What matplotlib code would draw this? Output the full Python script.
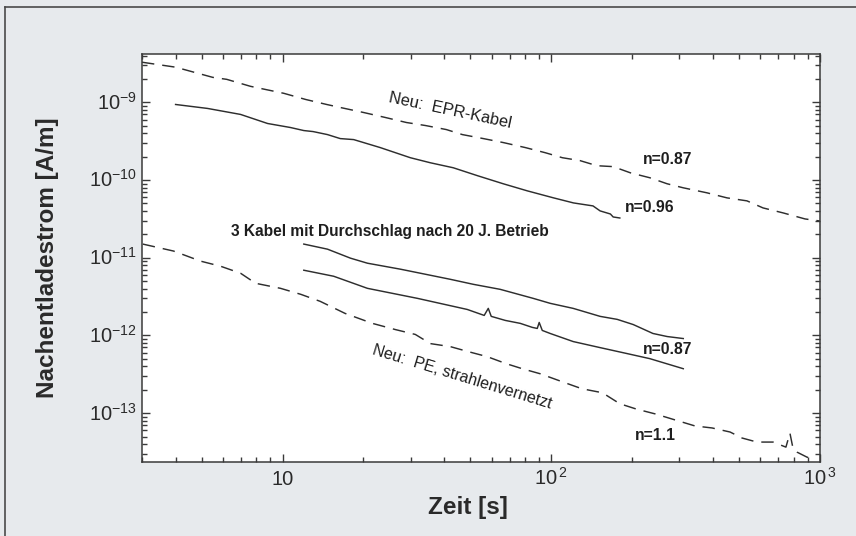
import matplotlib
matplotlib.use('Agg')
import numpy as np
import matplotlib.pyplot as plt
from matplotlib import transforms
from matplotlib.lines import Line2D
from matplotlib.ticker import LogLocator, NullFormatter

plt.rcParams['font.family'] = ['Liberation Sans', 'DejaVu Sans']
plt.rcParams['mathtext.default'] = 'regular'

# Neu: EPR-Kabel (dashed, n=0.87)
epr_t = [3.0, 4.0, 5.5, 6.2, 7.6, 10.1, 12.2, 14.6, 16.4, 20.0, 24.1, 28.9, 34.0, 40.7,
         46.7, 55.9, 66.3, 80.1, 95.0, 110, 128, 148, 170, 197, 233, 270, 310, 380,
         451, 535, 614, 729, 880, 1000]
epr_i = [3.29e-9, 2.84e-9, 2.10e-9, 1.98e-9, 1.61e-9, 1.31e-9, 1.09e-9, 9.4e-10, 8.6e-10,
         7.42e-10, 6.4e-10, 5.51e-10, 5.04e-10, 4.47e-10, 3.85e-10, 3.42e-10, 3.04e-10,
         2.62e-10, 2.25e-10, 1.94e-10, 1.78e-10, 1.53e-10, 1.49e-10, 1.24e-10, 1.07e-10,
         8.96e-11, 7.95e-11, 6.85e-11, 5.9e-11, 5.4e-11, 4.38e-11, 3.78e-11, 3.16e-11, 2.97e-11]

# EPR solid (n=0.96)
eprs_t = [4.0, 5.26, 6.98, 8.8, 10.7, 12.0, 13.0, 14.7, 16.4, 18.4, 23.1, 29.9, 35.5, 43.2,
          53.1, 66.3, 81.4, 102, 121, 128, 143, 152, 166, 170, 180]
eprs_i = [9.4e-10, 8.36e-10, 7.0e-10, 5.35e-10, 4.75e-10, 4.34e-10, 4.21e-10, 3.85e-10,
          3.42e-10, 3.32e-10, 2.62e-10, 1.94e-10, 1.67e-10, 1.44e-10, 1.14e-10, 8.96e-11,
          7.27e-11, 5.9e-11, 5.08e-11, 4.93e-11, 4.65e-11, 4.01e-11, 3.66e-11, 3.35e-11, 3.25e-11]

# 3 Kabel mit Durchschlag (two solid curves, n=0.87)
k1_t = [12.0, 14.7, 17.9, 20.7, 27.5, 32.6, 42.1, 51.3, 64.6, 85.7, 99.1, 120.7, 152,
        176, 202, 239, 270, 310]
k1_i = [1.50e-11, 1.29e-11, 9.88e-12, 8.51e-12, 7.12e-12, 6.32e-12, 5.28e-12, 4.55e-12,
        3.92e-12, 3.0e-12, 2.59e-12, 2.23e-12, 1.76e-12, 1.61e-12, 1.38e-12, 1.06e-12,
        9.68e-13, 9.12e-13]

k2_t = [12.0, 15.5, 20.7, 31.8, 48.7, 56.3, 58.3, 59.8, 67.5, 76.7, 85.0, 88.7, 90.2,
        92.6, 99.1, 120.7, 152, 192, 233, 310]
k2_i = [6.91e-12, 5.78e-12, 4.04e-12, 3.0e-12, 2.16e-12, 1.81e-12, 2.23e-12, 1.76e-12,
        1.56e-12, 1.43e-12, 1.27e-12, 1.23e-12, 1.47e-12, 1.16e-12, 1.06e-12, 8.34e-13,
        6.97e-13, 5.83e-13, 5.02e-13, 3.73e-13]

# Neu: PE, strahlenvernetzt (dashed, n=1.1)
pe_t = [3.02, 3.93, 4.96, 5.88, 6.98, 7.94, 9.83, 11.7, 13.8, 17.1, 21.6, 26.3, 31.2, 35.5,
        42.1, 49.1, 57.8, 68.0, 78.0, 91.0, 110, 130, 155, 180, 207, 244, 289, 343, 397,
        463, 513, 583, 669, 747, 773, 794, 821, 895, 957]
pe_i = [1.50e-11, 1.22e-11, 9.04e-12, 7.78e-12, 6.32e-12, 4.69e-12, 4.04e-12, 3.38e-12,
        2.75e-12, 1.92e-12, 1.43e-12, 1.19e-12, 1.03e-12, 7.85e-13, 7.18e-13, 6.19e-13,
        5.33e-13, 4.33e-13, 3.73e-13, 3.21e-13, 2.53e-13, 2.06e-13, 1.83e-13, 1.32e-13,
        1.13e-13, 9.76e-14, 8.17e-14, 6.83e-14, 6.44e-14, 5.71e-14, 4.78e-14, 4.24e-14,
        4.24e-14, 3.65e-14, 5.54e-14, 3.50e-14, 3.15e-14, 2.71e-14, 2.58e-14]

xtick_vals = [10, 100, 1000]
xtick_text = ['10', r'$10^{\,2}$', r'$10^{\,3}$']
ytick_vals = [1e-9, 1e-10, 1e-11, 1e-12, 1e-13]
ytick_text = [r'$10^{-9}$', r'$10^{-10}$', r'$10^{-11}$', r'$10^{-12}$', r'$10^{-13}$']

line_col = '#2e2e2e'
bg = '#e7eaed'

fig = plt.figure(figsize=(8.56, 5.36), dpi=100, facecolor=bg)
ax = fig.add_axes([0.1659, 0.1381, 0.7920, 0.7612])
ax.set_facecolor('white')

dash = (0, (8.5, 5.5))
ax.plot(epr_t, epr_i, color=line_col, lw=1.05, linestyle=dash)
ax.plot(eprs_t, eprs_i, color=line_col, lw=1.05)
ax.plot(k1_t, k1_i, color=line_col, lw=1.05)
ax.plot(k2_t, k2_i, color=line_col, lw=1.05)
ax.plot(pe_t, pe_i, color=line_col, lw=1.05, linestyle=dash)

ax.set_xscale('log')
ax.set_yscale('log')
ax.set_xlim(3.0, 1000)
ax.set_ylim(2.35e-14, 4.2e-9)

for a in (ax.xaxis, ax.yaxis):
    a.set_major_locator(LogLocator(base=10, numticks=20))
    a.set_minor_locator(LogLocator(base=10, subs=np.arange(2, 10), numticks=100))
    a.set_major_formatter(NullFormatter())
    a.set_minor_formatter(NullFormatter())

ax.tick_params(which='both', direction='in', top=True, right=True, color='#3a3a3a', width=1.0)
ax.tick_params(which='major', length=6)
ax.tick_params(which='minor', length=3.8)
for s in ax.spines.values():
    s.set_color('#3a3a3a')
    s.set_linewidth(1.1)

# tick labels placed on the baseline so that "10" and "10^2" line up
tick_fs = 14.5
xl_tf = transforms.offset_copy(ax.get_xaxis_transform(), fig=fig, y=-16.3, units='points')
for v, s in zip(xtick_vals, xtick_text):
    ax.text(v, 0, s, transform=xl_tf, ha='center', va='baseline', fontsize=tick_fs,
            color='#2a2a2a', clip_on=False)
yl_tf = transforms.offset_copy(ax.get_yaxis_transform(), fig=fig, x=-3.5, y=-5.2, units='points')
for v, s in zip(ytick_vals, ytick_text):
    ax.text(0, v, s, transform=yl_tf, ha='right', va='baseline', fontsize=tick_fs,
            color='#2a2a2a', clip_on=False)

fig.text(0.055, 0.519, 'Nachentladestrom [A/m]', rotation=90, ha='center', va='center',
         fontsize=17.5, fontweight='bold', color='#2a2a2a')
fig.text(0.547, 0.054, 'Zeit [s]', ha='center', va='center',
         fontsize=17.5, fontweight='bold', color='#2a2a2a')

# annotations
tc = '#1e1e1e'
ax.text(42.1, 7.88e-10, 'Neu:  EPR-Kabel', rotation=-12, rotation_mode='anchor',
        ha='center', va='center', fontsize=11.8, color=tc)
ax.text(270, 1.83e-10, 'n=0.87', ha='center', va='center', fontsize=11.3,
        fontweight='bold', color=tc)
ax.text(233, 4.39e-11, 'n=0.96', ha='center', va='center', fontsize=11.3,
        fontweight='bold', color=tc)
ax.text(6.41, 2.21e-11, '3 Kabel mit Durchschlag nach 20 J. Betrieb', ha='left', va='center',
        fontsize=11.2, fontweight='bold', color=tc)
ax.text(270, 6.57e-13, 'n=0.87', ha='center', va='center', fontsize=11.3,
        fontweight='bold', color=tc)
ax.text(46.7, 2.94e-13, 'Neu:  PE, strahlenvernetzt', rotation=-17, rotation_mode='anchor',
        ha='center', va='center', fontsize=11.5, color=tc)
ax.text(244, 5.22e-14, 'n=1.1', ha='center', va='center', fontsize=11.3,
        fontweight='bold', color=tc)

# outer frame of the scanned page
fig.add_artist(Line2D([0.0058, 0.0058], [0.0, 0.9864], transform=fig.transFigure,
                      color='#4a4a4a', lw=1.2))
fig.add_artist(Line2D([0.0058, 1.0], [0.9864, 0.9864], transform=fig.transFigure,
                      color='#4a4a4a', lw=1.2))

fig.savefig('out.png', dpi=100, facecolor=bg)
